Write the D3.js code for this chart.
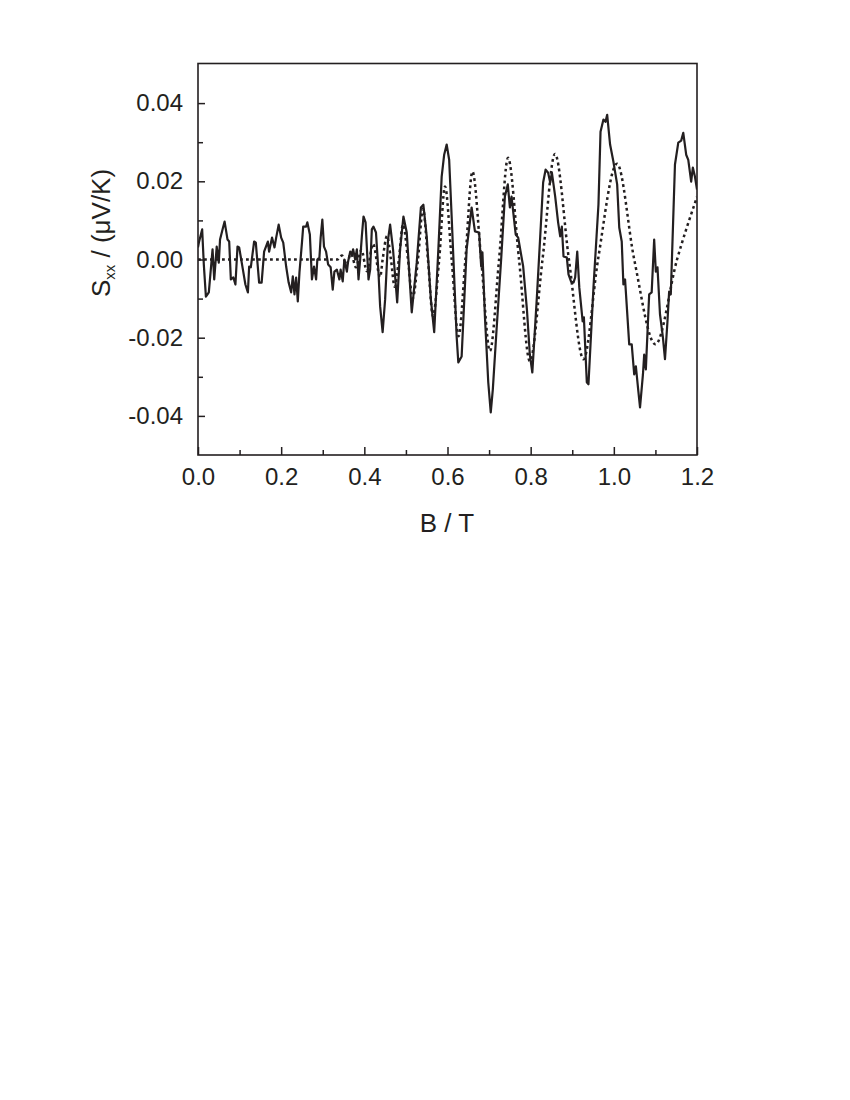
<!DOCTYPE html>
<html><head><meta charset="utf-8">
<script src="https://cdn.jsdelivr.net/npm/d3@7"></script>
<style>body{margin:0;background:#fff}</style>
</head><body>
<script>
// Measured curve (solid)
const solidB = [0.000,0.002,0.010,0.014,0.019,0.026,0.035,0.039,0.045,0.050,0.053,0.059,0.064,0.071,0.075,0.079,0.085,0.090,0.095,0.099,0.108,0.114,0.120,0.123,0.127,0.135,0.139,0.147,0.153,0.159,0.168,0.171,0.178,0.184,0.188,0.194,0.200,0.205,0.212,0.218,0.224,0.228,0.232,0.236,0.240,0.244,0.250,0.253,0.260,0.263,0.269,0.274,0.279,0.284,0.287,0.292,0.295,0.299,0.303,0.308,0.313,0.319,0.324,0.328,0.334,0.340,0.343,0.348,0.352,0.358,0.361,0.366,0.370,0.373,0.378,0.382,0.386,0.390,0.394,0.398,0.403,0.410,0.414,0.418,0.422,0.428,0.434,0.438,0.444,0.450,0.457,0.462,0.469,0.479,0.486,0.494,0.502,0.514,0.526,0.536,0.542,0.550,0.560,0.568,0.578,0.586,0.592,0.598,0.604,0.610,0.622,0.626,0.634,0.646,0.658,0.666,0.676,0.681,0.684,0.690,0.698,0.704,0.709,0.718,0.729,0.738,0.745,0.750,0.754,0.764,0.770,0.782,0.791,0.798,0.804,0.815,0.823,0.830,0.836,0.842,0.847,0.851,0.859,0.866,0.871,0.875,0.879,0.887,0.891,0.897,0.903,0.907,0.912,0.917,0.925,0.928,0.935,0.939,0.951,0.963,0.968,0.975,0.980,0.984,0.991,0.999,1.008,1.013,1.019,1.023,1.027,1.037,1.043,1.049,1.053,1.059,1.063,1.070,1.073,1.077,1.085,1.091,1.097,1.101,1.105,1.111,1.118,1.123,1.129,1.133,1.137,1.147,1.155,1.162,1.167,1.174,1.179,1.186,1.190,1.195,1.200];
const solidS = [0.0031,0.0043,0.0077,-0.0013,-0.0095,-0.0084,0.0026,-0.0051,0.0033,-0.0008,0.0051,0.0077,0.0097,0.0051,0.0046,-0.0051,-0.0046,-0.0064,0.0033,0.0031,-0.0026,-0.0064,-0.0084,-0.0018,-0.0020,0.0046,0.0043,-0.0059,-0.0059,0.0020,0.0046,0.0020,0.0056,0.0031,0.0056,0.0089,0.0056,0.0043,-0.0018,-0.0059,-0.0084,-0.0043,-0.0089,-0.0046,-0.0107,-0.0033,0.0043,0.0084,0.0084,0.0095,0.0064,-0.0051,-0.0018,-0.0051,0.0000,0.0005,0.0056,0.0102,0.0033,0.0020,-0.0013,-0.0020,-0.0077,-0.0031,-0.0026,-0.0051,-0.0026,-0.0056,0.0000,-0.0031,-0.0005,0.0020,0.0013,0.0026,0.0000,0.0026,-0.0051,0.0000,0.0059,0.0110,0.0095,-0.0051,-0.0026,0.0077,0.0084,0.0069,-0.0033,-0.0120,-0.0186,-0.0102,0.0051,0.0089,0.0026,-0.0110,0.0026,0.0110,0.0069,-0.0135,-0.0008,0.0133,0.0140,0.0059,-0.0102,-0.0186,0.0026,0.0212,0.0268,0.0294,0.0255,0.0110,-0.0197,-0.0263,-0.0248,0.0026,0.0133,0.0072,0.0069,-0.0018,0.0018,-0.0146,-0.0314,-0.0391,-0.0332,-0.0179,0.0000,0.0161,0.0192,0.0133,0.0161,0.0064,0.0056,-0.0018,-0.0128,-0.0243,-0.0289,-0.0095,0.0059,0.0197,0.0230,0.0222,0.0197,0.0222,0.0161,0.0095,0.0059,0.0084,0.0008,0.0005,-0.0038,-0.0056,-0.0059,-0.0046,0.0020,-0.0072,-0.0158,-0.0148,-0.0314,-0.0319,-0.0072,0.0140,0.0327,0.0358,0.0352,0.0370,0.0294,0.0250,0.0192,0.0082,0.0046,-0.0064,-0.0051,-0.0217,-0.0217,-0.0294,-0.0273,-0.0337,-0.0378,-0.0294,-0.0243,-0.0281,-0.0089,-0.0084,0.0051,-0.0031,-0.0020,-0.0140,-0.0199,-0.0255,-0.0158,-0.0082,-0.0089,0.0243,0.0299,0.0304,0.0324,0.0268,0.0255,0.0199,0.0235,0.0212,0.0179];
// Calculated curve (dotted)
const fitB = [0,0.125,0.245,0.318,0.335,0.346,0.357,0.368,0.380,0.393,0.406,0.421,0.438,0.444,0.4545,0.464,0.473,0.483,0.493,0.505,0.516,0.529,0.541,0.553,0.565,0.580,0.594,0.610,0.6265,0.643,0.660,0.681,0.702,0.724,0.7455,0.772,0.798,0.8285,0.8585,0.892,0.927,0.962,1.0077,1.049,1.100,1.152,1.200];
const fitS = [0,0,0,0,0,0.0010,-0.0012,0.0015,-0.0020,0.0025,-0.0030,0.0040,-0.0045,0,0.0060,0,-0.0070,0,0.0090,0,-0.0100,0,0.0130,0,-0.0145,0,0.0187,0,-0.0196,0,0.0225,0,-0.0234,0,0.0260,0,-0.0260,0,0.0270,0,-0.0255,0,0.0245,0,-0.0217,0,0.0160];

const xMajor = [0,0.2,0.4,0.6,0.8,1.0,1.2];
const xLabels = ["0.0","0.2","0.4","0.6","0.8","1.0","1.2"];
const xMinor = [0.1,0.3,0.5,0.7,0.9,1.1];
const yMajor = [-0.04,-0.02,0,0.02,0.04];
const yLabels = ["-0.04","-0.02","0.00","0.02","0.04"];
const yMinor = [-0.03,-0.01,0.01,0.03];

const ink = "#231f20";
const font = "'Liberation Sans', Arial, sans-serif";

const svg = d3.select("body").append("svg").attr("width",850).attr("height",1100);
const x = d3.scaleLinear().domain([0,1.2]).range([198,697]);
const y = d3.scaleLinear().domain([-0.05,0.05]).range([455,64]);

svg.append("defs").append("clipPath").attr("id","c").append("rect")
  .attr("x",198).attr("y",64).attr("width",499).attr("height",391);

const g = svg.append("g").attr("clip-path","url(#c)");
const fitData = fitB.map((b,i)=>[b,fitS[i]]);
const solidData = solidB.map((b,i)=>[b,solidS[i]]);

g.append("path").datum(fitData)
  .attr("d", d3.line().x(d=>x(d[0])).y(d=>y(d[1])).curve(d3.curveMonotoneX))
  .attr("fill","none").attr("stroke",ink).attr("stroke-width",2.5)
  .attr("stroke-dasharray","2.8,3.2");

g.append("path").datum(solidData)
  .attr("d", d3.line().x(d=>x(d[0])).y(d=>y(d[1])))
  .attr("fill","none").attr("stroke",ink).attr("stroke-width",2.2)
  .attr("stroke-linejoin","round");

// axes
const xAx = svg.append("g").attr("transform","translate(0,455)")
  .call(d3.axisBottom(x).tickValues(xMajor).tickFormat((d,i)=>xLabels[i]).tickSize(-8).tickPadding(13).tickSizeOuter(0));
const xAxm = svg.append("g").attr("transform","translate(0,455)")
  .call(d3.axisBottom(x).tickValues(xMinor).tickFormat("").tickSize(-5).tickSizeOuter(0));
const yAx = svg.append("g").attr("transform","translate(198,0)")
  .call(d3.axisLeft(y).tickValues(yMajor).tickFormat((d,i)=>yLabels[i]).tickSize(-7).tickPadding(15).tickSizeOuter(0));
const yAxm = svg.append("g").attr("transform","translate(198,0)")
  .call(d3.axisLeft(y).tickValues(yMinor).tickFormat("").tickSize(-5).tickSizeOuter(0));
[xAx,xAxm,yAx,yAxm].forEach(a=>{
  a.select(".domain").remove();
  a.selectAll("line").attr("stroke",ink).attr("stroke-width",1.5);
  a.selectAll("text").attr("fill",ink).style("font-family",font).style("font-size","24px");
});

svg.append("rect").attr("x",198).attr("y",63.5).attr("width",499).attr("height",391.5)
  .attr("fill","none").attr("stroke",ink).attr("stroke-width",1.6);

svg.append("text").attr("x",447).attr("y",532).attr("text-anchor","middle")
  .attr("fill",ink).style("font-family",font).style("font-size","26px").text("B / T");

const yt = svg.append("text").attr("transform","translate(110,233) rotate(-90)")
  .attr("text-anchor","middle").attr("fill",ink).style("font-family",font).style("font-size","26px");
yt.append("tspan").text("S");
yt.append("tspan").attr("dy",5).style("font-size","15px").text("xx");
yt.append("tspan").attr("dy",-5).text(" / (\u03bcV/K)");
</script>
</body></html>
